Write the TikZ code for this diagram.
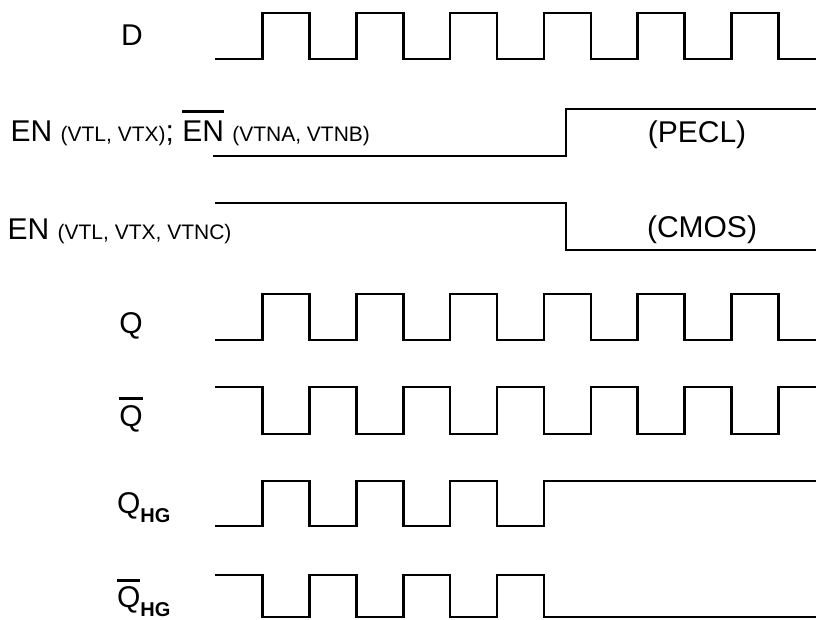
\documentclass[tikz,border=0pt]{standalone}
\usepackage{fontspec}
\setmainfont{Liberation Sans}
\newcommand\ovl[2]{\setbox0\hbox{#1}\rlap{\raisebox{#2}{\rule{\wd0}{2.6pt}}}\box0{}}
\newcommand\smtxt{\fontsize{21}{24}\selectfont}
\newcommand\subtxt{\fontsize{20}{22}\selectfont\bfseries}
\tikzset{
  wave/.style={line width=2.6pt, line join=miter, line cap=butt},
  lbl/.style={font=\fontsize{30}{36}\selectfont, inner sep=0pt, outer sep=0pt}
}
\begin{document}
\begin{tikzpicture}[x=1pt,y=-1pt]
\useasboundingbox (0,0) rectangle (817,620);
% labels
\node[lbl, anchor=base] (dlab) at (132,46) {D};
\node[lbl, anchor=base west] (enlabA) at (10.6,142) {EN {\smtxt (VTL, VTX)}; \ovl{EN}{29pt} {\smtxt (VTNA, VTNB)}};
\node[lbl, anchor=base west] (enlabB) at (7.6,240) {EN {\smtxt (VTL, VTX, VTNC)}};
\node[lbl, anchor=base] (pecl) at (697,143) {(PECL)};
\node[lbl, anchor=base] (cmos) at (702,238) {(CMOS)};
\node[lbl, anchor=base] (qlab) at (131,334) {Q};
\node[lbl, anchor=base] (qblab) at (131,426) {\ovl{Q}{26pt}};
\node[lbl, anchor=base west] (qhglab) at (117,513) {Q\raisebox{-9pt}{\subtxt HG}};
\node[lbl, anchor=base west] (qbhglab) at (117,607) {\ovl{Q}{25pt}\raisebox{-9pt}{\subtxt HG}};
% D
\draw[wave] (215,59) \foreach \k in {0,...,5}{ -- ({262.5+93.8*\k},59) -- ({262.5+93.8*\k},13) -- ({309.4+93.8*\k},13) -- ({309.4+93.8*\k},59)} -- (816,59);
% EN rows
\draw[wave] (213,156) -- (566,156) -- (566,109) -- (816,109);
\draw[wave] (215,203) -- (566,203) -- (566,250) -- (816,250);
% Q
\draw[wave] (215,340) \foreach \k in {0,...,5}{ -- ({262.5+93.8*\k},340) -- ({262.5+93.8*\k},294) -- ({309.4+93.8*\k},294) -- ({309.4+93.8*\k},340)} -- (816,340);
% Qbar
\draw[wave] (215,387) \foreach \k in {0,...,5}{ -- ({262.5+93.8*\k},387) -- ({262.5+93.8*\k},434) -- ({309.4+93.8*\k},434) -- ({309.4+93.8*\k},387)} -- (816,387);
% QHG
\draw[wave] (215,526) \foreach \k in {0,...,2}{ -- ({262.5+93.8*\k},526) -- ({262.5+93.8*\k},481) -- ({309.4+93.8*\k},481) -- ({309.4+93.8*\k},526)} -- (543.9,526) -- (543.9,481) -- (816,481);
% QbarHG
\draw[wave] (215,575) \foreach \k in {0,...,2}{ -- ({262.5+93.8*\k},575) -- ({262.5+93.8*\k},617) -- ({309.4+93.8*\k},617) -- ({309.4+93.8*\k},575)} -- (543.9,575) -- (543.9,617) -- (816,617);
\end{tikzpicture}
\end{document}
